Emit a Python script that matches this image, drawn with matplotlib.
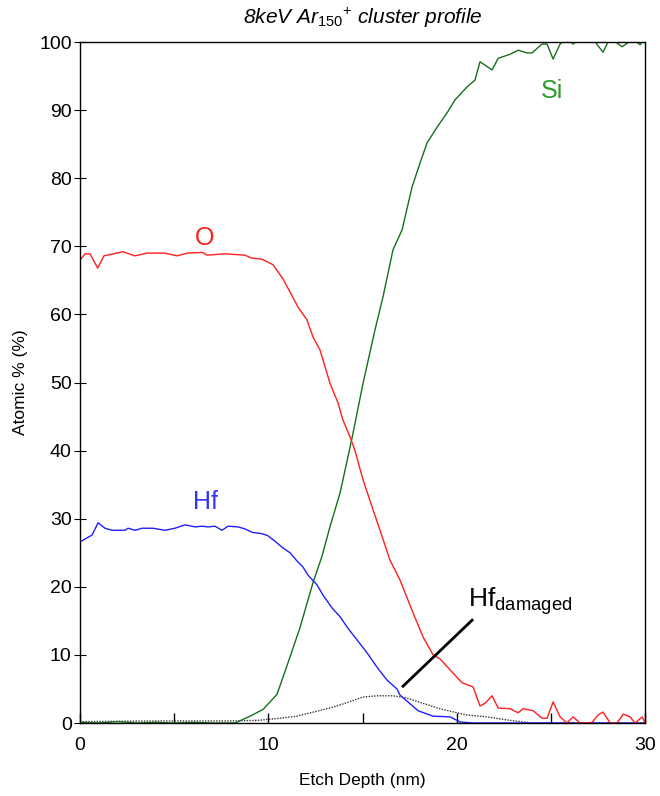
import numpy as np
import matplotlib.pyplot as plt
from matplotlib.ticker import MultipleLocator

plt.rcParams["font.family"] = ["Liberation Sans", "DejaVu Sans"]
plt.rcParams["mathtext.fontset"] = "custom"
plt.rcParams["mathtext.rm"] = "Liberation Sans"
plt.rcParams["mathtext.it"] = "Liberation Sans:italic"

# O profile (etch depth nm, atomic %)
o_depth = [0, 0.27, 0.53, 0.94, 1.27, 2.28, 2.92, 3.56, 4.51, 5.15, 5.68, 6.53,
           6.74, 7.70, 8.76, 9.08, 9.67, 10.25, 10.78, 11.15, 11.57, 12.05, 12.37,
           12.74, 13.27, 13.70, 13.96, 14.34, 14.60, 15.03, 15.56, 15.93, 16.46,
           16.99, 17.68, 18.22, 18.75, 19.12, 19.65, 20.29, 20.87, 21.24, 21.51,
           21.88, 22.20, 22.84, 23.26, 23.53, 24.06, 24.54, 24.80, 25.12, 25.49,
           25.86, 26.18, 26.55, 26.93, 27.19, 27.51, 27.77, 28.15, 28.52, 28.84,
           29.21, 29.47, 29.85, 30.0]
o_pct = [68.0, 68.9, 68.9, 66.8, 68.6, 69.2, 68.6, 69.0, 69.0, 68.6, 69.0, 69.1,
         68.7, 68.9, 68.7, 68.3, 68.1, 67.3, 65.2, 63.3, 61.1, 59.2, 56.7,
         54.8, 49.9, 47.0, 44.5, 42.0, 40.0, 35.7, 31.3, 28.3, 23.9,
         21.0, 16.2, 12.6, 10.0, 9.4, 7.8, 5.9, 5.3, 2.5, 2.9,
         4.0, 2.2, 2.1, 1.5, 2.1, 1.8, 0.7, 0.7, 3.1, 0.9,
         0.0, 0.9, 0.0, 0.0, 0.1, 1.2, 1.6, 0.0, 0.0, 1.3,
         0.9, 0.0, 0.9, 0.0]

# Hf profile
hf_depth = [0, 0.64, 0.96, 1.33, 1.70, 2.39, 2.55, 2.92, 3.29, 3.88, 4.51, 5.04,
            5.58, 6.11, 6.48, 6.80, 7.17, 7.54, 7.86, 8.39, 8.76, 9.14, 9.67,
            9.98, 10.35, 10.78, 11.15, 11.52, 11.84, 12.11, 12.58, 12.90, 13.38,
            13.81, 14.23, 14.71, 15.24, 15.77, 16.30, 16.83, 16.99, 17.95, 18.75,
            19.65, 20.18, 20.87, 30.0]
hf_pct = [26.6, 27.6, 29.4, 28.6, 28.3, 28.3, 28.6, 28.3, 28.6, 28.6, 28.3, 28.6,
          29.1, 28.8, 28.9, 28.8, 28.9, 28.3, 28.9, 28.8, 28.5, 28.0, 27.8,
          27.5, 26.7, 25.7, 25.0, 23.8, 22.9, 21.7, 20.3, 18.8, 16.9,
          15.6, 13.9, 12.2, 10.3, 8.2, 6.3, 5.0, 4.1, 1.8, 1.0,
          0.9, 0.15, 0.0, 0.0]

# Si profile
si_depth = [0, 1.0, 2.0, 3.0, 4.0, 5.0, 6.0, 7.0, 8.23, 9.03, 9.72, 10.46, 11.04,
            11.68, 12.37, 12.85, 13.27, 13.81, 14.44, 15.03, 15.66, 16.09, 16.62,
            17.10, 17.63, 18.05, 18.43, 18.96, 19.49, 19.91, 20.55, 20.97, 21.24,
            21.88, 22.20, 22.83, 23.26, 23.74, 24.00, 24.53, 24.80, 25.12, 25.49,
            25.86, 26.18, 26.55, 27.19, 27.77, 28.14, 28.78, 29.36, 29.74, 30.0]
si_pct = [0.1, 0.0, 0.2, 0.0, 0.1, 0.0, 0.1, 0.0, 0.0, 1.0, 2.0, 4.2, 8.8,
          14.0, 20.6, 24.5, 28.8, 33.8, 41.8, 49.9, 57.7, 62.6, 69.5,
          72.4, 78.7, 82.2, 85.2, 87.5, 89.6, 91.5, 93.4, 94.4, 97.1,
          95.9, 97.6, 98.2, 98.8, 98.4, 98.4, 99.7, 99.7, 97.5, 99.7,
          100.6, 99.7, 100.6, 100.6, 98.5, 100.6, 99.3, 100.4, 99.6, 100.5]

# damaged Hf profile
hfd_depth = [0, 4.0, 8.0, 9.5, 10.6, 11.5, 12.4, 13.4, 14.3, 15.0, 15.8, 16.6,
             17.3, 18.2, 19.1, 20.5, 21.6, 22.8, 24.0, 30.0]
hfd_pct = [0.2, 0.3, 0.3, 0.4, 0.7, 1.0, 1.6, 2.3, 3.1, 3.8, 4.0, 4.0,
           3.7, 2.9, 2.1, 1.2, 0.9, 0.4, 0.0, 0.0]

fig = plt.figure(figsize=(6.6, 7.96), dpi=100)
ax = fig.add_axes([0.1212, 0.0917, 0.8561, 0.8555])

ax.plot(hfd_depth, hfd_pct, color="#333333", lw=1, ls=(0, (1, 1)))
ax.plot(si_depth, si_pct, color="#15701a", lw=1)
ax.plot(hf_depth, hf_pct, color="#1f1fff", lw=1)
ax.plot(o_depth, o_pct, color="#ff1f1f", lw=1)

ax.text(6.64, 71.2, "O", color="#ff1f1f", fontsize=18, ha="center", va="center")
ax.text(6.64, 32.4, "Hf", color="#3333ff", fontsize=18, ha="center", va="center")
ax.text(25.06, 92.8, "Si", color="#2e9b2e", fontsize=18, ha="center", va="center")
ax.text(20.6, 15.6, r"Hf$_{\mathrm{damaged}}$", color="black", fontsize=19,
        ha="left", va="bottom")
ax.plot([17.15, 20.82], [5.4, 15.1], color="black", lw=2)

ax.set_xlim(0, 30)
ax.set_ylim(0, 100)
ax.xaxis.set_major_locator(MultipleLocator(10))
ax.xaxis.set_minor_locator(MultipleLocator(5))
ax.yaxis.set_major_locator(MultipleLocator(10))
ax.tick_params(axis="x", which="both", direction="in", length=7, width=1,
               labelsize=14, pad=10)
ax.tick_params(axis="y", which="major", direction="inout", length=8, labelsize=14, pad=2)
for s in ax.spines.values():
    s.set_linewidth(1)

ax.set_xlabel("Etch Depth (nm)", fontsize=12.5, labelpad=14)
ax.set_ylabel("Atomic % (%)", fontsize=12.5, labelpad=8)
ax.set_title(r"8keV Ar$_{\mathit{150}}$$^{\mathit{+}}$ cluster profile",
             fontsize=15, style="italic", pad=13)

plt.savefig("out.png", dpi=100)
